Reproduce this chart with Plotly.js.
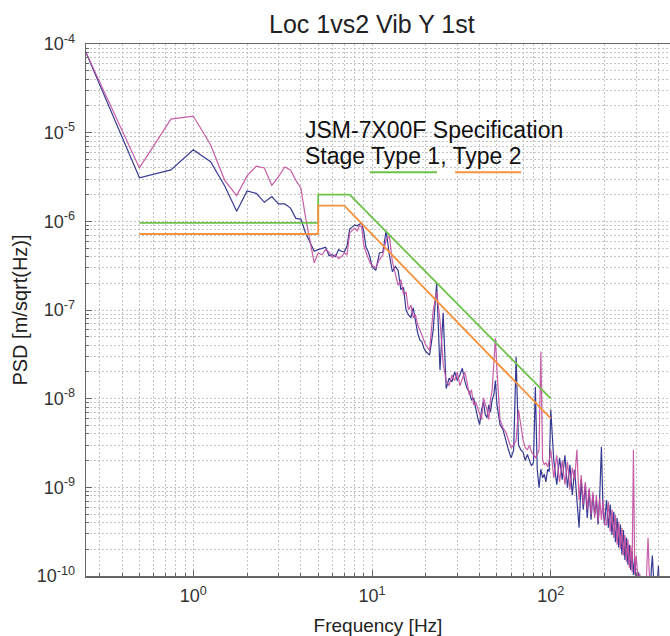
<!DOCTYPE html>
<html>
<head>
<meta charset="utf-8">
<script src="https://cdn.plot.ly/plotly-3.0.1.min.js"></script>
<style>html,body{margin:0;padding:0;background:#fff;overflow:hidden}#chart{width:670px;height:636px}</style>
</head>
<body>
<div id="chart"></div>
<script>
// ---- data (frequency in Hz, PSD in m/sqrt(Hz)) ----
const freq = [
0.25,0.5,0.75,1,1.25,1.5,1.75,2,2.25,2.5,2.75,3,3.25,3.5,3.75,4,4.25,4.5,4.75,5,
5.25,5.5,5.75,6,6.25,6.5,6.75,7,7.25,7.5,7.75,8,8.25,8.5,8.75,9,9.25,9.5,9.75,10,
10.5,11,11.5,12,12.5,13,13.5,14,14.5,15,15.5,16,16.5,17,17.5,18,18.5,19,19.5,20,
21,22,23,24,25,26,27,28,29,30,31,32,33,34,35,36,37,38,39,40,41,42,43,44,45,46,47,48,49,50,
52,54,56,58,60,62,64,66,68,70,72,74,76,78,80,82,84,86,88,90,92,94,96,98,100,
104,108,112,116,120,124,128,132,136,140,144,148,152,156,160,164,168,172,176,180,184,188,192,196,200,
205,210,215,220,225,230,235,240,245,250,255,260,265,270,275,280,285,290,295,300,
305,310,315,320,325,330,335,340,345,350,355,360,365,370,375,380,385,390,395,400,
405,410,415,420,425,430,435,440,445,450,455,460
];
const loc1 = [
8.2e-5,3.1e-6,3.8e-6,6.4e-6,4.7e-6,2.5e-6,1.3e-6,2.2e-6,2.07e-6,1.64e-6,1.9e-6,1.57e-6,1.57e-6,1.41e-6,1.08e-6,1.06e-6,7.4e-7,5.7e-7,4.6e-7,4.8e-7,
5.0e-7,5.1e-7,4.1e-7,4.2e-7,4.0e-7,4.8e-7,4.6e-7,4.5e-7,5.3e-7,8.2e-7,8.6e-7,9.1e-7,8.9e-7,9.3e-7,9.6e-7,7.6e-7,5.1e-7,4.6e-7,3.9e-7,3.1e-7,
2.8e-7,4.4e-7,4.5e-7,7.8e-7,4.2e-7,2.7e-7,3.1e-7,2.8e-7,1.7e-7,1.8e-7,1.0e-7,8.8e-8,8.2e-8,1.06e-7,7.3e-8,5.5e-8,4.6e-8,4.4e-8,3.7e-8,3.4e-8,
3.1e-8,6.0e-8,2.0e-7,2.1e-8,9.3e-8,1.3e-8,1.7e-8,1.55e-8,2.0e-8,1.6e-8,1.85e-8,2.2e-8,1.6e-8,1.3e-8,1.2e-8,9.7e-9,1.02e-8,7.5e-9,6.1e-9,5.1e-9,7.5e-9,9.2e-9,6.6e-9,6.1e-9,8.5e-9,7.1e-9,9.7e-9,1.1e-8,1.6e-8,8.5e-9,
5.1e-9,4.5e-9,3.3e-9,2.65e-9,2.15e-9,2.65e-9,2.96e-8,3.0e-9,2.65e-9,2.5e-9,2.0e-9,2.35e-9,2.0e-9,1.75e-9,1.9e-9,1.35e-8,1.6e-9,9.9e-10,1.6e-9,1.28e-9,1.4e-9,1.15e-9,1.6e-9,1.5e-9,7.5e-9,
2.0e-9,1.07e-9,2.15e-9,1.22e-9,2.3e-9,9.9e-10,1.8e-9,8.2e-10,1.58e-9,7.2e-10,3.5e-10,1.22e-9,5.6e-10,1.07e-9,4.5e-10,9.4e-10,4.3e-10,8.2e-10,4.9e-10,7.2e-10,3.8e-10,8.2e-10,2.86e-9,5.6e-10,3.8e-10,
7.2e-10,3.5e-10,6.4e-10,2.9e-10,5.3e-10,2.4e-10,4.5e-10,2.1e-10,3.8e-10,1.74e-10,3.3e-10,1.52e-10,2.7e-10,1.34e-10,2.25e-10,1.17e-10,1.9e-10,1.03e-10,1.6e-10,9.1e-11,
9.1e-11,1.1e-10,8.0e-11,9.5e-11,7.0e-11,8.6e-11,6.1e-11,7.4e-11,5.4e-11,6.6e-11,4.7e-11,5.7e-11,1.17e-10,1.7e-10,1.03e-10,5.4e-11,4.4e-11,5.7e-11,9.1e-11,1.3e-10,
7.0e-11,4.2e-11,3.7e-11,4.4e-11,3.2e-11,4.0e-11,2.8e-11,3.7e-11,2.6e-11,3.4e-11,2.5e-11,3.0e-11
];
const loc2 = [
8.2e-5,4.0e-6,1.42e-5,1.54e-5,7.3e-6,2.9e-6,1.95e-6,3.25e-6,4.2e-6,4.0e-6,2.55e-6,3.2e-6,4.1e-6,3.8e-6,2.9e-6,2.36e-6,1.1e-6,6.2e-7,3.4e-7,4.4e-7,
4.2e-7,4.8e-7,4.5e-7,3.9e-7,4.2e-7,3.8e-7,4.0e-7,4.4e-7,4.2e-7,7.4e-7,8.0e-7,8.4e-7,7.8e-7,8.9e-7,8.7e-7,5.3e-7,4.5e-7,3.9e-7,3.4e-7,3.2e-7,
3.0e-7,3.7e-7,4.2e-7,6.2e-7,6.8e-7,3.5e-7,2.5e-7,1.9e-7,2.2e-7,1.5e-7,1.6e-7,1.0e-7,1.14e-7,8.2e-8,8.8e-8,6.8e-8,6.0e-8,5.2e-8,4.6e-8,4.0e-8,
3.5e-8,1.0e-7,1.6e-7,7.7e-8,2.5e-8,1.6e-8,1.4e-8,1.85e-8,1.6e-8,2.0e-8,1.4e-8,1.7e-8,2.0e-8,1.55e-8,1.1e-8,1.26e-8,8.5e-9,9.2e-9,7.9e-9,6.6e-9,5.8e-9,1.02e-8,8.5e-9,7.5e-9,5.8e-9,9.7e-9,1.26e-8,2.7e-8,4.8e-8,2.1e-8,
5.8e-9,4.7e-9,4.2e-9,3.4e-9,2.8e-9,3.0e-9,3.4e-9,7.5e-9,5.1e-9,3.4e-9,2.8e-9,2.65e-9,3.0e-9,2.5e-9,2.35e-9,2.15e-9,2.35e-9,2.65e-9,3.4e-8,2.0e-9,1.8e-9,1.9e-9,1.7e-9,2.0e-9,2.65e-9,
1.28e-9,2.3e-9,1.15e-9,2.0e-9,1.07e-9,1.94e-9,9.4e-10,1.66e-9,1.22e-9,2.65e-9,7.2e-10,1.38e-9,6.4e-10,1.15e-9,5.6e-10,9.9e-10,4.9e-10,8.9e-10,4.5e-10,8.2e-10,4.1e-10,7.6e-10,4.3e-10,7.2e-10,3.8e-10,
3.8e-10,6.9e-10,3.15e-10,5.6e-10,2.7e-10,4.9e-10,2.25e-10,4.1e-10,2.0e-10,3.5e-10,1.7e-10,2.9e-10,1.45e-10,2.6e-10,1.24e-10,2.2e-10,1.11e-10,2.65e-9,1.03e-10,1.7e-10,
1.17e-10,8.6e-11,1.06e-10,7.4e-11,9.1e-11,6.6e-11,8.0e-11,5.7e-11,1.34e-10,2.7e-10,1.17e-10,5.4e-11,4.7e-11,5.7e-11,4.2e-11,5.1e-11,4.0e-11,4.7e-11,3.7e-11,4.4e-11,
3.4e-11,4.0e-11,3.2e-11,2.8e-11,3.7e-11,2.6e-11,3.4e-11,2.5e-11,3.2e-11,2.35e-11,2.8e-11,2.2e-11
];
// specification limits
const specType1Freq = [0.5, 5, 5, 7.5, 100];
const specType1 = [0.96e-6, 0.96e-6, 2e-6, 2e-6, 1e-8];
const specType2Freq = [0.5, 5, 5, 7, 100];
const specType2 = [0.72e-6, 0.72e-6, 1.5e-6, 1.5e-6, 6e-9];
// tick labels
const xTickVals = [1, 10, 100];
const xTickText = ['10<sup>0</sup>', '10<sup>1</sup>', '10<sup>2</sup>'];
const yTickVals = [1e-10, 1e-9, 1e-8, 1e-7, 1e-6, 1e-5, 1e-4];
const yTickText = ['10<sup>-10</sup>', '10<sup>-9</sup>', '10<sup>-8</sup>', '10<sup>-7</sup>', '10<sup>-6</sup>', '10<sup>-5</sup>', '10<sup>-4</sup>'];
const titleText = 'Loc 1vs2 Vib Y 1st';
const specLine1 = 'JSM-7X00F Specification';
const specLine2 = 'Stage Type 1, Type 2';

// ---- minor grid positions (2..9 in each decade) ----
function minorVals(e0, e1) {
  const v = [];
  for (let e = e0; e <= e1; e++) for (let k = 2; k <= 9; k++) v.push(k * Math.pow(10, e));
  return v;
}

const FONT = 'Liberation Sans, Arial, Helvetica, sans-serif';
const GRID = '#c4c4c4';
const BLUE = '#363a92';
const MAGENTA = '#c24ea0';
const GREEN = '#6cc24a';
const ORANGE = '#f7923e';

const traces = [
  {x: freq, y: loc1, type: 'scatter', mode: 'lines', line: {color: BLUE, width: 1.2}, name: 'Loc 1'},
  {x: freq, y: loc2, type: 'scatter', mode: 'lines', line: {color: MAGENTA, width: 1.2}, opacity: 0.9, name: 'Loc 2'},
  {x: specType1Freq, y: specType1, type: 'scatter', mode: 'lines', line: {color: GREEN, width: 1.8}, name: 'Type 1'},
  {x: specType2Freq, y: specType2, type: 'scatter', mode: 'lines', line: {color: ORANGE, width: 1.8}, name: 'Type 2'}
];

const axisCommon = {
  type: 'log',
  showgrid: true, gridcolor: GRID, gridwidth: 1, griddash: '2px,2px',
  showline: true, linecolor: '#666', linewidth: 1.5,
  ticks: 'inside', ticklen: 6, tickcolor: '#666', tickwidth: 1,
  tickmode: 'array',
  zeroline: false,
  tickfont: {family: FONT, size: 18, color: '#333'}
};

const layout = {
  width: 670, height: 636,
  margin: {l: 86, r: 0, t: 44, b: 60},
  paper_bgcolor: '#fff', plot_bgcolor: '#fff',
  showlegend: false,
  title: {text: titleText, font: {family: FONT, size: 25, color: '#222'}, x: 0.555, xanchor: 'center', xref: 'container', y: 0.962, yanchor: 'middle', yref: 'container'},
  xaxis: Object.assign({}, axisCommon, {
    range: [-0.6, 2.667],
    tickvals: xTickVals, ticktext: xTickText,
    mirror: true,
    ticklabelstandoff: 3,
    minor: {tickmode: 'array', tickvals: minorVals(-1, 2), ticks: 'inside', ticklen: 3, tickcolor: '#666', showgrid: true, gridcolor: GRID, griddash: '2px,2px', gridwidth: 1},
    title: {text: 'Frequency [Hz]', font: {family: FONT, size: 19, color: '#222'}, standoff: 13}
  }),
  yaxis: Object.assign({}, axisCommon, {
    range: [-10, -4],
    tickvals: yTickVals, ticktext: yTickText,
    ticklabelstandoff: 6,
    minor: {tickmode: 'array', tickvals: minorVals(-11, -5), ticks: 'inside', ticklen: 3, tickcolor: '#666', showgrid: true, gridcolor: GRID, griddash: '2px,2px', gridwidth: 1},
    title: {text: 'PSD [m/sqrt(Hz)]', font: {family: FONT, size: 20, color: '#222'}, standoff: 3}
  }),
  annotations: [
    {text: specLine1, xref: 'paper', yref: 'paper', x: 0.372, y: 0.838, xanchor: 'left', yanchor: 'middle', showarrow: false, font: {family: FONT, size: 23, color: '#111'}},
    {text: specLine2, xref: 'paper', yref: 'paper', x: 0.372, y: 0.789, xanchor: 'left', yanchor: 'middle', showarrow: false, font: {family: FONT, size: 23, color: '#111'}}
  ],
  shapes: [
    {type: 'line', xref: 'paper', yref: 'paper', x0: 0.486, x1: 0.601, y0: 0.759, y1: 0.759, line: {color: GREEN, width: 2}},
    {type: 'line', xref: 'paper', yref: 'paper', x0: 0.632, x1: 0.745, y0: 0.759, y1: 0.759, line: {color: ORANGE, width: 2}}
  ]
};

Plotly.newPlot('chart', traces, layout, {staticPlot: true, displayModeBar: false});
</script>
</body>
</html>
